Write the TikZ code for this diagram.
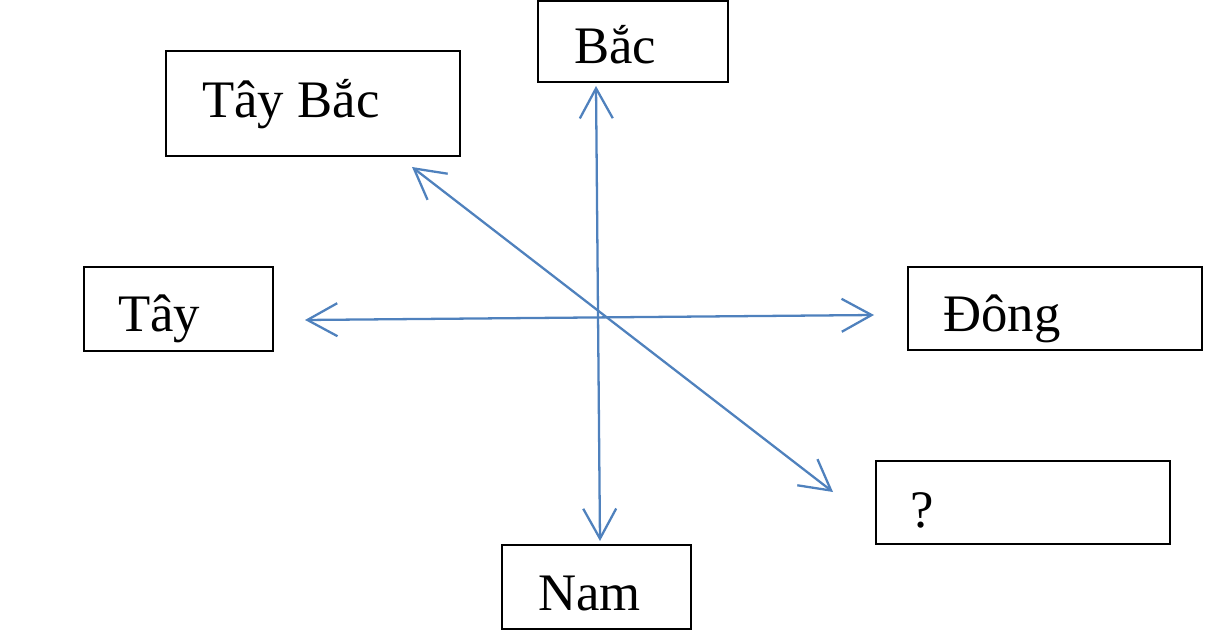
\documentclass[tikz,border=0pt]{standalone}
\usepackage{fontspec}
\setmainfont{Liberation Serif}
\usetikzlibrary{arrows.meta,positioning}
\definecolor{compassblue}{HTML}{4F81BD}

\begin{document}
\begin{tikzpicture}[x=0.02cm, y=-0.02cm,
    dirbox/.style={draw, line width=1.2pt, inner sep=0pt},
    dirtext/.style={anchor=base west, inner sep=0pt, font=\fontsize{30}{36}\selectfont},
    arrow/.style={{Straight Barb[length=0.6cm,width=0.66cm]}-{Straight Barb[length=0.6cm,width=0.66cm]},
                  line width=1.3pt, color=compassblue}
]
\useasboundingbox (0,0) rectangle (1226,638);

% --- boxes ---
\node[dirbox, minimum width=3.8cm,  minimum height=1.62cm] (bac)     at (633,41.5)   {};
\node[dirbox, minimum width=5.88cm, minimum height=2.1cm]  (taybac)  at (313,103.5)  {};
\node[dirbox, minimum width=3.78cm, minimum height=1.68cm] (tay)     at (178.5,309)  {};
\node[dirbox, minimum width=5.88cm, minimum height=1.66cm] (dong)    at (1055,308.5) {};
\node[dirbox, minimum width=5.88cm, minimum height=1.66cm] (dongnam) at (1023,502.5) {};
\node[dirbox, minimum width=3.78cm, minimum height=1.68cm] (nam)     at (596.5,587)  {};

% --- labels ---
\node[dirtext] (bactxt)     at (574,64)  {Bắc};
\node[dirtext] (taybactxt)  at (202,118) {Tây Bắc};
\node[dirtext] (taytxt)     at (118,331) {Tây};
\node[dirtext] (dongtxt)    at (943,331) {Đông};
\node[dirtext] (dongnamtxt) at (910,527) {?};
\node[dirtext] (namtxt)     at (538,610) {Nam};

% --- arrow ends ---
\coordinate (n) at (596,86);
\coordinate (s) at (600,541);
\coordinate (w) at (305,320);
\coordinate (e) at (874,315);
\coordinate (nw) at (412,167);
\coordinate (se) at (833,492);

% --- arrows ---
\draw[arrow] (s) -- (n);
\draw[arrow] (w) -- (e);
\draw[arrow] (nw) -- (se);

\end{tikzpicture}
\end{document}
